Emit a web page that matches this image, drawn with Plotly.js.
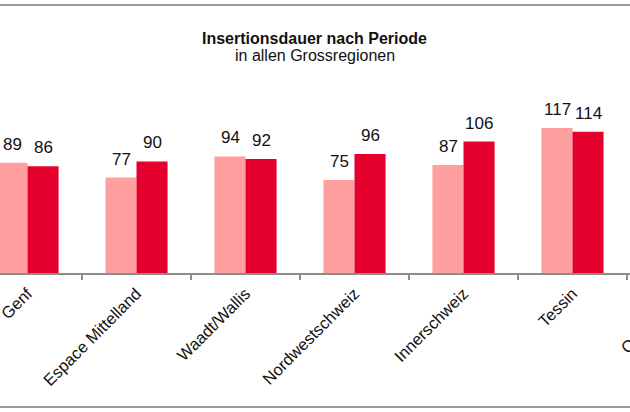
<!DOCTYPE html>
<html>
<head>
<meta charset="utf-8">
<script src="https://cdn.plot.ly/plotly-3.0.1.min.js"></script>
<style>
html,body{margin:0;padding:0;width:630px;height:412px;overflow:hidden;background:#fff;}
#chart{position:absolute;left:-27px;top:0;width:763px;height:412px;}
</style>
</head>
<body>
<div id="chart"></div>
<script>
const categories = ["Genf", "Espace Mittelland", "Waadt/Wallis", "Nordwestschweiz", "Innerschweiz", "Tessin", "Ostschweiz"];
const period1 = [89, 77, 94, 75, 87, 117, null];
const period2 = [86, 90, 92, 96, 106, 114, null];
const seriesNames = ["Periode 1", "Periode 2"];
const titleText = "Insertionsdauer nach Periode";
const subtitleText = "in allen Grossregionen";

const font = "Liberation Sans, Arial, sans-serif";

const traces = [
  {type: "bar", name: seriesNames[0], x: categories, y: period1, marker: {color: "#ff9f9f"}, hoverinfo: "x+y"},
  {type: "bar", name: seriesNames[1], x: categories, y: period2, marker: {color: "#e6002e"}, hoverinfo: "x+y"}
];

const annotations = [];
[period1, period2].forEach((vals, s) => {
  vals.forEach((v, i) => {
    if (v === null) return;
    annotations.push({
      x: categories[i], y: v, xref: "x", yref: "y",
      text: String(v), showarrow: false,
      xshift: s === 0 ? -15.5 : 15.5, yshift: 7,
      yanchor: "bottom", xanchor: "center",
      font: {family: font, size: 17, color: "#111"}
    });
  });
});
annotations.push({
  text: "<b>" + titleText + "</b>", xref: "paper", yref: "paper", x: 0.448, y: 1.2634,
  xanchor: "center", yanchor: "middle", showarrow: false,
  font: {family: font, size: 16, color: "#111"}
});
annotations.push({
  text: subtitleText, xref: "paper", yref: "paper", x: 0.448, y: 1.172,
  xanchor: "center", yanchor: "middle", showarrow: false,
  font: {family: font, size: 16, color: "#111"}
});

const layout = {
  width: 763, height: 412,
  margin: {l: 0, r: 0, t: 87, b: 139, pad: 0},
  paper_bgcolor: "#fff", plot_bgcolor: "#fff",
  barmode: "group", bargap: 0.43, bargroupgap: 0,
  showlegend: false,
  xaxis: {
    type: "category", categoryorder: "array", categoryarray: categories,
    range: [-0.5, 6.5], fixedrange: true,
    showline: true, linecolor: "#8c8c8c", linewidth: 1.5,
    ticks: "outside", tickson: "boundaries", ticklen: 5, tickcolor: "#8c8c8c", tickwidth: 1.5,
    tickangle: -45, showgrid: false, zeroline: false, ticklabelstandoff: 3,
    tickfont: {family: font, size: 16.5, color: "#111"}
  },
  yaxis: {range: [0, 150], visible: false, showgrid: false, zeroline: false, fixedrange: true},
  annotations: annotations,
  shapes: [
    {type: "line", xref: "paper", yref: "paper", x0: -0.1, x1: 1.1, y0: 1.4409, y1: 1.4409, line: {color: "#9a9a9a", width: 2}},
    {type: "line", xref: "paper", yref: "paper", x0: -0.1, x1: 1.1, y0: -0.7204, y1: -0.7204, line: {color: "#9a9a9a", width: 2}}
  ]
};

Plotly.newPlot("chart", traces, layout, {displayModeBar: false, staticPlot: true});
</script>
</body>
</html>
